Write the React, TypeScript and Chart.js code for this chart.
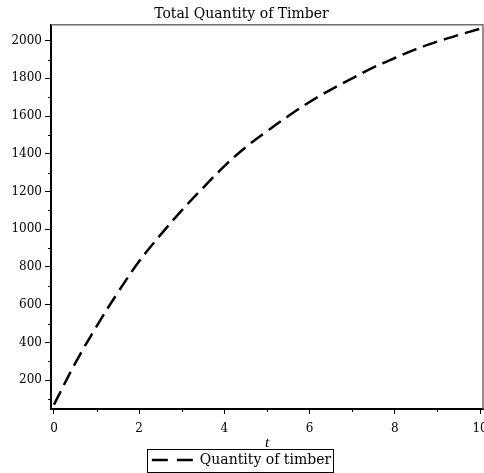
import React, { useEffect, useRef } from 'react';
import { Chart, registerables } from 'chart.js';

Chart.register(...registerables);

// Data
const tValues = [0, 0.5, 1, 1.5, 2, 2.5, 3, 3.5, 4, 4.5, 5, 5.5, 6, 6.5, 7, 7.5, 8, 8.5, 9, 9.5, 10];
const quantity = [70, 290, 485, 665, 830, 970, 1100, 1220, 1335, 1435, 1520, 1600, 1675, 1740, 1800, 1858, 1908, 1955, 1995, 2030, 2063];
const yMajorTicks = [200, 400, 600, 800, 1000, 1200, 1400, 1600, 1800, 2000];
const xMajorTicks = [0, 2, 4, 6, 8, 10];

const chartTitle = 'Total Quantity of Timber';
const seriesLabel = 'Quantity of timber';
const xAxisTitle = 't';

const SERIF = '"DejaVu Serif", "Liberation Serif", serif';
const ITALIC_SERIF = '"Liberation Serif", "Times New Roman", serif';

const framePlugin = {
  id: 'frameAndExtras',
  afterDraw(chart: any) {
    const { ctx, chartArea: a } = chart;
    ctx.save();
    // top & right frame lines
    ctx.strokeStyle = '#6e6e6e';
    ctx.lineWidth = 1.5;
    ctx.beginPath();
    ctx.moveTo(a.left, a.top);
    ctx.lineTo(a.right, a.top);
    ctx.lineTo(a.right, a.bottom);
    ctx.stroke();

    // minor ticks
    ctx.strokeStyle = '#000';
    ctx.lineWidth = 1;
    const ys = chart.scales.y;
    ys.ticks.forEach((t: any) => {
      if (!yMajorTicks.includes(t.value)) {
        const py = Math.round(ys.getPixelForValue(t.value)) + 0.5;
        ctx.beginPath();
        ctx.moveTo(a.left - 3, py);
        ctx.lineTo(a.left, py);
        ctx.stroke();
      }
    });
    const xs = chart.scales.x;
    xs.ticks.forEach((t: any) => {
      if (!xMajorTicks.includes(t.value)) {
        const px = Math.round(xs.getPixelForValue(t.value)) + 0.5;
        ctx.beginPath();
        ctx.moveTo(px, a.bottom);
        ctx.lineTo(px, a.bottom + 3);
        ctx.stroke();
      }
    });

    // legend border
    const hb = chart.legend?.legendHitBoxes?.[0];
    if (hb) {
      ctx.strokeStyle = '#000';
      ctx.lineWidth = 1;
      ctx.strokeRect(
        Math.round(hb.left - 5) + 0.5,
        Math.round(hb.top - 4) + 0.5,
        Math.round(hb.width + 7),
        Math.round(hb.height + 9)
      );
    }
    ctx.restore();
  },
};

export default function App() {
  const canvasRef = useRef<HTMLCanvasElement | null>(null);

  useEffect(() => {
    document.body.style.margin = '0';
    const canvas = canvasRef.current;
    if (!canvas) return;
    const chart = new Chart(canvas, {
      type: 'line',
      data: {
        datasets: [
          {
            label: seriesLabel,
            data: tValues.map((t, i) => ({ x: t, y: quantity[i] })),
            borderColor: '#000',
            backgroundColor: '#000',
            borderWidth: 2.5,
            borderDash: [15, 7],
            pointRadius: 0,
            tension: 0.4,
            fill: false,
          },
        ],
      },
      options: {
        animation: false,
        responsive: true,
        maintainAspectRatio: false,
        layout: { padding: { left: 0, right: 1, top: 0, bottom: -4 } },
        plugins: {
          title: {
            display: true,
            text: chartTitle,
            color: '#000',
            font: { family: SERIF, size: 14, weight: 'normal' },
            padding: { top: 6, bottom: 2 },
          },
          legend: {
            display: true,
            position: 'bottom',
            labels: {
              color: '#000',
              font: { family: SERIF, size: 14 },
              usePointStyle: true,
              pointStyle: 'line',
              pointStyleWidth: 41,
              padding: 1,
              generateLabels: (chart: any) => {
                const items = Chart.defaults.plugins.legend.labels.generateLabels(chart);
                return items.map((it: any) => ({ ...it, lineDash: [16, 9], lineWidth: 2.5 }));
              },
            },
          },
          tooltip: { enabled: false },
        },
        scales: {
          x: {
            type: 'linear',
            min: -0.07,
            max: 10.07,
            title: {
              display: true,
              text: xAxisTitle,
              color: '#000',
              font: { family: ITALIC_SERIF, size: 15, style: 'italic' },
              padding: { top: 0, bottom: 0 },
            },
            ticks: {
              stepSize: 1,
              includeBounds: false,
              color: '#000',
              font: { family: SERIF, size: 12 },
              padding: 8,
              maxRotation: 0,
              autoSkip: false,
              callback: (v: any) => (xMajorTicks.includes(Number(v)) ? String(v) : ''),
            },
            grid: {
              drawOnChartArea: false,
              tickLength: 5,
              tickColor: (c: any) => (xMajorTicks.includes(c.tick?.value) ? '#000' : 'rgba(0,0,0,0)'),
            },
            border: { display: true, color: '#000', width: 2 },
            afterFit: (s: any) => {
              s.height = 43;
              s.paddingRight = 0;
              s.paddingLeft = 0;
            },
          },
          y: {
            type: 'linear',
            min: 47,
            max: 2084,
            ticks: {
              stepSize: 100,
              includeBounds: false,
              color: '#000',
              font: { family: SERIF, size: 12 },
              padding: 3,
              autoSkip: false,
              callback: (v: any) => (yMajorTicks.includes(Number(v)) ? String(v) : ''),
            },
            grid: {
              drawOnChartArea: false,
              tickLength: 6,
              tickColor: (c: any) => (yMajorTicks.includes(c.tick?.value) ? '#000' : 'rgba(0,0,0,0)'),
            },
            border: { display: true, color: '#000', width: 2 },
            afterFit: (s: any) => {
              s.width = 51;
            },
          },
        },
      },
      plugins: [framePlugin],
    });
    return () => chart.destroy();
  }, []);

  return (
    <div style={{ position: 'fixed', left: 0, top: 0, width: 484, height: 473 }}>
      <canvas ref={canvasRef} />
    </div>
  );
}
